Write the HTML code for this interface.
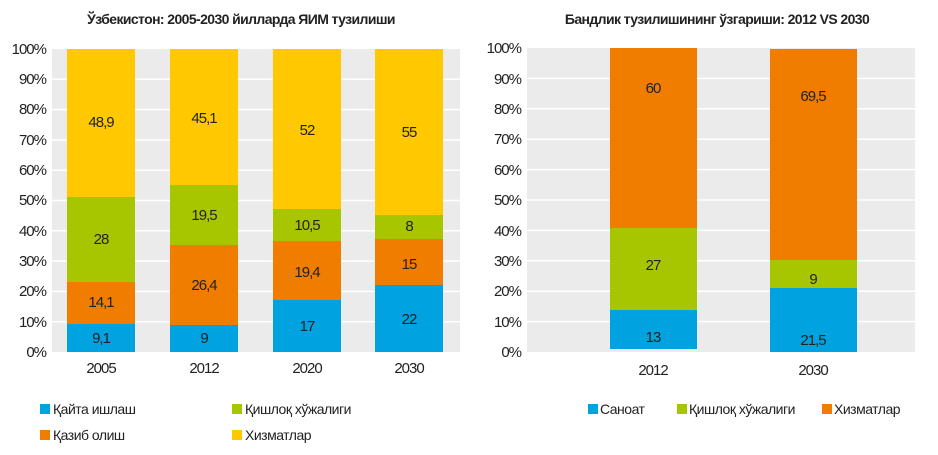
<!DOCTYPE html>
<html><head><meta charset="utf-8"><style>body{margin:0;background:#fff}svg{display:block}text{font-family:"Liberation Sans",sans-serif;fill:#222}</style></head><body>
<svg width="938" height="455" xmlns="http://www.w3.org/2000/svg">
<g font-size="14" letter-spacing="-0.6">
<text x="241" y="24" text-anchor="middle" font-weight="bold" font-size="14">Ўзбекистон: 2005-2030 йилларда ЯИМ тузилиши</text>
<text x="717" y="24" text-anchor="middle" font-weight="bold" font-size="14">Бандлик тузилишининг ўзгариши: 2012 VS 2030</text>
</g>
<!-- left plot -->
<rect x="52" y="49" width="408" height="303" fill="#ebebeb"/>
<g stroke="#fff" stroke-width="1.5">
<line x1="52" x2="460" y1="79.3" y2="79.3"/><line x1="52" x2="460" y1="109.6" y2="109.6"/><line x1="52" x2="460" y1="139.9" y2="139.9"/><line x1="52" x2="460" y1="170.2" y2="170.2"/><line x1="52" x2="460" y1="200.5" y2="200.5"/><line x1="52" x2="460" y1="230.8" y2="230.8"/><line x1="52" x2="460" y1="261.1" y2="261.1"/><line x1="52" x2="460" y1="291.4" y2="291.4"/><line x1="52" x2="460" y1="321.7" y2="321.7"/>
</g>
<g font-size="15" text-anchor="end" letter-spacing="-1">
<text x="46" y="54">100%</text><text x="46" y="84">90%</text><text x="46" y="114">80%</text><text x="46" y="145">70%</text><text x="46" y="175">60%</text><text x="46" y="205">50%</text><text x="46" y="236">40%</text><text x="46" y="266">30%</text><text x="46" y="296">20%</text><text x="46" y="327">10%</text><text x="46" y="357">0%</text>
</g>
<!-- 2005 -->
<rect x="67" y="49" width="68" height="148" fill="#ffc800"/>
<rect x="67" y="197" width="68" height="85" fill="#a8c600"/>
<rect x="67" y="282" width="68" height="42" fill="#f07c00"/>
<rect x="67" y="324" width="68" height="28" fill="#00a3e0"/>
<!-- 2012 -->
<rect x="170" y="49" width="68" height="136" fill="#ffc800"/>
<rect x="170" y="185" width="68" height="60" fill="#a8c600"/>
<rect x="170" y="245" width="68" height="80" fill="#f07c00"/>
<rect x="170" y="325" width="68" height="27" fill="#00a3e0"/>
<!-- 2020 -->
<rect x="273" y="49" width="68" height="160" fill="#ffc800"/>
<rect x="273" y="209" width="68" height="32" fill="#a8c600"/>
<rect x="273" y="241" width="68" height="59" fill="#f07c00"/>
<rect x="273" y="300" width="68" height="52" fill="#00a3e0"/>
<!-- 2030 -->
<rect x="375" y="49" width="68" height="166" fill="#ffc800"/>
<rect x="375" y="215" width="68" height="24" fill="#a8c600"/>
<rect x="375" y="239" width="68" height="46" fill="#f07c00"/>
<rect x="375" y="285" width="68" height="67" fill="#00a3e0"/>
<g font-size="15" text-anchor="middle" letter-spacing="-1">
<text x="101" y="127">48,9</text><text x="101" y="244">28</text><text x="101" y="307">14,1</text><text x="101" y="343">9,1</text>
<text x="204" y="123">45,1</text><text x="204" y="220">19,5</text><text x="204" y="290">26,4</text><text x="204" y="343">9</text>
<text x="307" y="135">52</text><text x="307" y="230">10,5</text><text x="307" y="277">19,4</text><text x="307" y="331">17</text>
<text x="409" y="137">55</text><text x="409" y="231">8</text><text x="409" y="269">15</text><text x="409" y="324">22</text>
<text x="101" y="373">2005</text><text x="204" y="373">2012</text><text x="307" y="373">2020</text><text x="409" y="373">2030</text>
</g>
<g font-size="14" letter-spacing="-0.5">
<rect x="40" y="404" width="10" height="10" fill="#00a3e0"/><text x="53" y="414">Қайта ишлаш</text>
<rect x="40" y="430" width="10" height="10" fill="#f07c00"/><text x="53" y="440">Қазиб олиш</text>
<rect x="232" y="404" width="10" height="10" fill="#a8c600"/><text x="245" y="414">Қишлоқ хўжалиги</text>
<rect x="232" y="430" width="10" height="10" fill="#ffc800"/><text x="245" y="440">Хизматлар</text>
</g>
<!-- right plot -->
<rect x="527" y="48" width="388" height="304" fill="#ebebeb"/>
<g stroke="#fff" stroke-width="1.5">
<line x1="527" x2="915" y1="78.4" y2="78.4"/><line x1="527" x2="915" y1="108.8" y2="108.8"/><line x1="527" x2="915" y1="139.2" y2="139.2"/><line x1="527" x2="915" y1="169.6" y2="169.6"/><line x1="527" x2="915" y1="200" y2="200"/><line x1="527" x2="915" y1="230.4" y2="230.4"/><line x1="527" x2="915" y1="260.8" y2="260.8"/><line x1="527" x2="915" y1="291.2" y2="291.2"/><line x1="527" x2="915" y1="321.6" y2="321.6"/>
</g>
<g font-size="15" text-anchor="end" letter-spacing="-1">
<text x="521" y="53">100%</text><text x="521" y="84">90%</text><text x="521" y="114">80%</text><text x="521" y="144">70%</text><text x="521" y="175">60%</text><text x="521" y="205">50%</text><text x="521" y="236">40%</text><text x="521" y="266">30%</text><text x="521" y="296">20%</text><text x="521" y="327">10%</text><text x="521" y="357">0%</text>
</g>
<rect x="610" y="48" width="87" height="180" fill="#f07c00"/>
<rect x="610" y="228" width="87" height="82" fill="#a8c600"/>
<rect x="610" y="310" width="87" height="39" fill="#00a3e0"/>
<rect x="770" y="49" width="87" height="211" fill="#f07c00"/>
<rect x="770" y="260" width="87" height="28" fill="#a8c600"/>
<rect x="770" y="288" width="87" height="64" fill="#00a3e0"/>
<g font-size="15" text-anchor="middle" letter-spacing="-1">
<text x="653" y="93">60</text><text x="653" y="270">27</text><text x="653" y="342">13</text>
<text x="813" y="101">69,5</text><text x="813" y="284">9</text><text x="813" y="345">21,5</text>
<text x="653" y="375">2012</text><text x="813" y="375">2030</text>
</g>
<g font-size="14" letter-spacing="-0.5">
<rect x="588" y="404" width="10" height="10" fill="#00a3e0"/><text x="600" y="414">Саноат</text>
<rect x="677" y="404" width="10" height="10" fill="#a8c600"/><text x="689" y="414">Қишлоқ хўжалиги</text>
<rect x="822" y="404" width="10" height="10" fill="#f07c00"/><text x="834" y="414">Хизматлар</text>
</g>
</svg>
</body></html>
